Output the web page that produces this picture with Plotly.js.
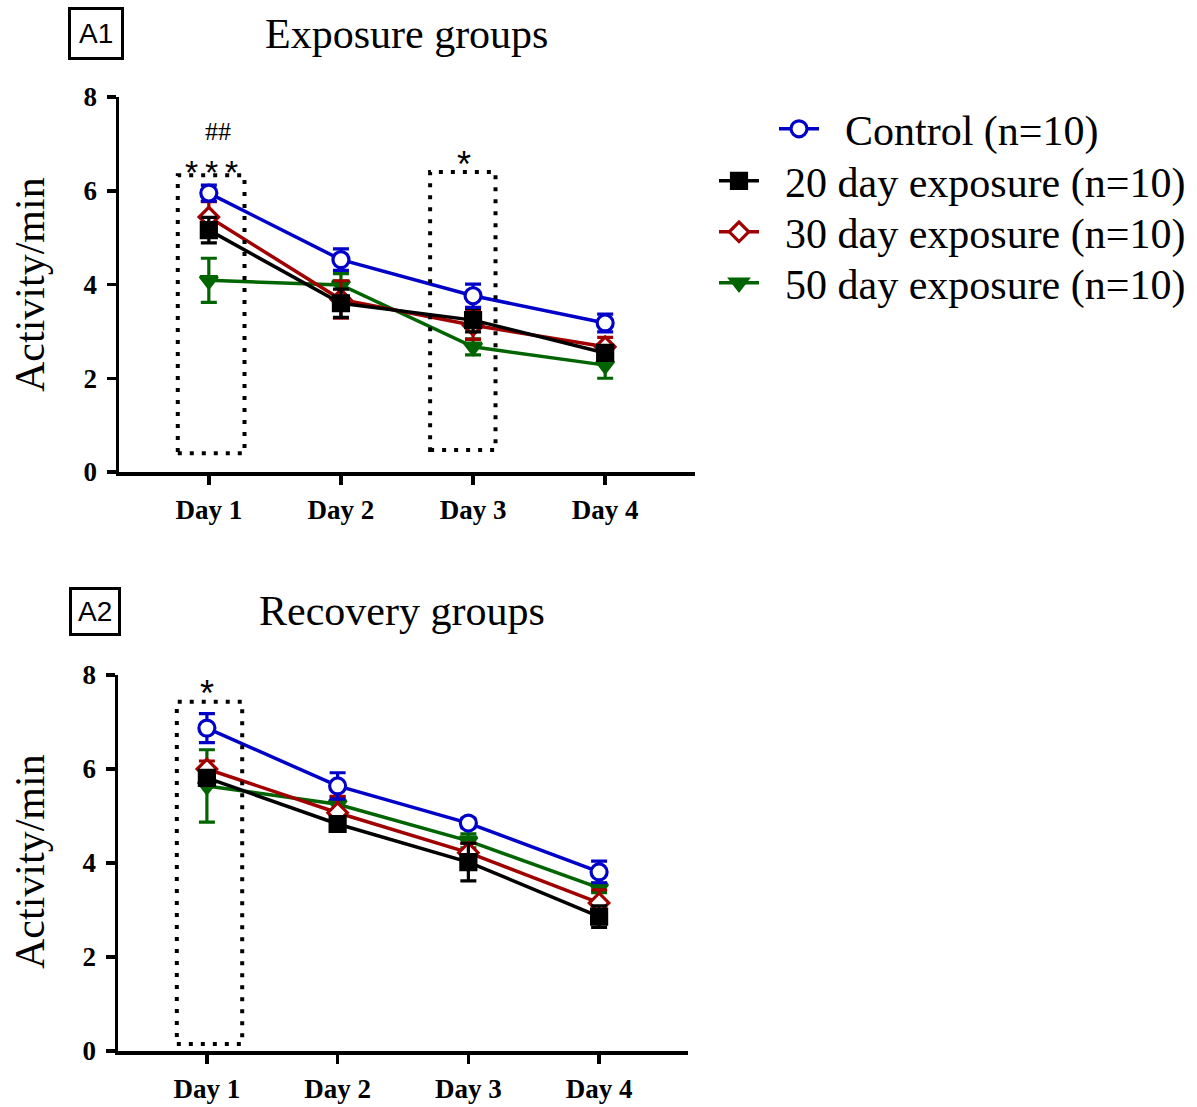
<!DOCTYPE html>
<html>
<head>
<meta charset="utf-8">
<script src="https://cdn.plot.ly/plotly-3.0.1.min.js"></script>
<style>html,body{margin:0;padding:0;background:#fff;}#chart{width:1197px;height:1107px;}</style>
</head>
<body>
<div id="chart"></div>
<script>
// ---- data ----
const days = ["Day 1", "Day 2", "Day 3", "Day 4"];
const seriesNames = ["Control (n=10)", "20 day exposure (n=10)", "30 day exposure (n=10)", "50 day exposure (n=10)"];

// A1: exposure groups (mean, SEM)
const expControl = [5.95, 4.53, 3.76, 3.18];
const expControlErr = [0.17, 0.23, 0.25, 0.19];
const exp20 = [5.16, 3.60, 3.24, 2.54];
const exp20Err = [0.27, 0.30, 0.25, 0.15];
const exp30 = [5.44, 3.68, 3.13, 2.67];
const exp30Err = [0.33, 0.40, 0.30, 0.20];
const exp50 = [4.09, 3.99, 2.67, 2.28];
const exp50Err = [0.47, 0.24, 0.17, 0.28];

// A2: recovery groups (mean, SEM)
const recControl = [6.87, 5.64, 4.85, 3.81];
const recControlErr = [0.31, 0.28, 0.10, 0.23];
const rec20 = [5.81, 4.83, 4.02, 2.86];
const rec20Err = [0.10, 0.10, 0.40, 0.23];
const rec30 = [6.00, 5.07, 4.22, 3.15];
const rec30Err = [0.17, 0.35, 0.20, 0.28];
const rec50 = [5.64, 5.25, 4.47, 3.47];
const rec50Err = [0.77, 0.15, 0.15, 0.10];

const yTicks = [0, 2, 4, 6, 8];

// ---- styles ----
const BLUE = "#0000C8", BLACK = "#000000", RED = "#A00000", GREEN = "#006400";
const SERIF = "Liberation Serif, Times New Roman, serif";
const SANS = "Liberation Sans, Arial, sans-serif";
const GAP = "\u00a0\u00a0";

function trace(y, err, name, color, symbol, fill, xa, ya, showLegend, legend) {
  return {
    type: "scatter", mode: "lines+markers",
    x: days, y: y, name: GAP + name,
    xaxis: xa, yaxis: ya,
    showlegend: showLegend, legend: legend,
    line: {color: color, width: 3.5},
    marker: {symbol: symbol, size: symbol === "circle" ? 16 : 15, color: fill,
             line: {color: color, width: 3.2}},
    error_y: {type: "data", array: err, visible: true, color: color, thickness: 3.2, width: 8}
  };
}

const data = [
  trace(exp50, exp50Err, seriesNames[3], GREEN, "triangle-down", GREEN, "x", "y", true, "legend4"),
  trace(exp30, exp30Err, seriesNames[2], RED, "diamond", "#FFFFFF", "x", "y", true, "legend3"),
  trace(exp20, exp20Err, seriesNames[1], BLACK, "square", BLACK, "x", "y", true, "legend2"),
  trace(expControl, expControlErr, seriesNames[0], BLUE, "circle", "#FFFFFF", "x", "y", true, "legend"),
  trace(rec50, rec50Err, seriesNames[3], GREEN, "triangle-down", GREEN, "x2", "y2", false, "legend4"),
  trace(rec30, rec30Err, seriesNames[2], RED, "diamond", "#FFFFFF", "x2", "y2", false, "legend3"),
  trace(rec20, rec20Err, seriesNames[1], BLACK, "square", BLACK, "x2", "y2", false, "legend2"),
  trace(recControl, recControlErr, seriesNames[0], BLUE, "circle", "#FFFFFF", "x2", "y2", false, "legend")
];

const xAxisBase = {
  type: "category", categoryorder: "array", categoryarray: days,
  range: [-0.68, 3.68],
  showline: true, linecolor: "#000", linewidth: 3.5,
  ticks: "outside", ticklen: 9, tickwidth: 3.5, tickcolor: "#000",
  showgrid: false, zeroline: false, fixedrange: true,
  tickfont: {family: SERIF, size: 27, color: "#000", weight: "bold"},
  ticklabelstandoff: 2
};
const yAxisBase = {
  range: [0, 8], tickvals: yTicks,
  showline: true, linecolor: "#000", linewidth: 3.5,
  ticks: "outside", ticklen: 9, tickwidth: 3.5, tickcolor: "#000",
  showgrid: false, zeroline: false, fixedrange: true,
  tickfont: {family: SERIF, size: 27, color: "#000", weight: "bold"},
  ticklabelstandoff: 4
};

const dotted = {color: "#000", width: 4, dash: "4px,8px"};
const shapes = [
  {type: "rect", xref: "x", yref: "y", x0: -0.235, x1: 0.27, y0: 0.4, y1: 6.33, line: dotted},
  {type: "rect", xref: "x", yref: "y", x0: 1.675, x1: 2.17, y0: 0.47, y1: 6.4, line: dotted},
  {type: "rect", xref: "x2", yref: "y2", x0: -0.23, x1: 0.27, y0: 0.15, y1: 7.43, line: dotted}
];

function pa(px, py, text, font, extra) {
  return Object.assign({xref: "paper", yref: "paper", x: px/1197, y: 1 - py/1107, text: text,
    showarrow: false, xanchor: "center", yanchor: "middle", font: font}, extra || {});
}
const titleFont = {family: SERIF, size: 42, color: "#000"};
const labelFont = {family: SANS, size: 28, color: "#000"};
const starFont = {family: SANS, size: 36, color: "#000"};

const annotations = [
  pa(95.5, 34, "A1", labelFont, {bordercolor: "#000", borderwidth: 3, borderpad: 8}),
  pa(94.5, 611.5, "A2", labelFont, {bordercolor: "#000", borderwidth: 3, borderpad: 6}),
  pa(406, 34, "Exposure groups", titleFont),
  pa(402, 611, "Recovery groups", titleFont),
  pa(30, 285, "Activity/min", titleFont, {textangle: -90}),
  pa(30, 862, "Activity/min", titleFont, {textangle: -90}),
  {xref: "x", yref: "y", x: 0.07, y: 7.27, text: "##", showarrow: false, borderpad: 0,
   font: {family: SERIF, size: 26, color: "#000"}},
  {xref: "x", yref: "y", x: 0.02, y: 6.40, text: "*\u2009*\u2009*", showarrow: false, borderpad: 0,
   font: {family: SANS, size: 34, color: "#000"}},
  {xref: "x", yref: "y", x: 1.93, y: 6.55, text: "*", showarrow: false, font: starFont},
  {xref: "x2", yref: "y2", x: 0.0, y: 7.6, text: "*", showarrow: false, font: starFont}
];

const legendFont = {family: SERIF, size: 42, color: "#000"};
function leg(px, py) {
  return {x: px/1197, y: 1 - py/1107, xanchor: "left", yanchor: "middle",
          font: legendFont, bgcolor: "rgba(0,0,0,0)", itemwidth: 40, borderwidth: 0};
}
const layout = {
  width: 1197, height: 1107,
  margin: {l: 0, r: 0, t: 0, b: 0},
  paper_bgcolor: "#fff", plot_bgcolor: "#fff",
  xaxis: Object.assign({}, xAxisBase, {domain: [119/1197, 695/1197], anchor: "y"}),
  yaxis: Object.assign({}, yAxisBase, {domain: [1 - 472/1107, 1 - 97/1107], anchor: "x"}),
  xaxis2: Object.assign({}, xAxisBase, {domain: [118/1197, 688/1197], anchor: "y2"}),
  yaxis2: Object.assign({}, yAxisBase, {domain: [1 - 1051/1107, 1 - 675/1107], anchor: "x2"}),
  legend: leg(774, 129),
  legend2: leg(714, 181),
  legend3: leg(714, 232),
  legend4: leg(714, 283),
  shapes: shapes,
  annotations: annotations,
  showlegend: true
};

Plotly.newPlot("chart", data, layout, {displayModeBar: false, staticPlot: true});
</script>
</body>
</html>
